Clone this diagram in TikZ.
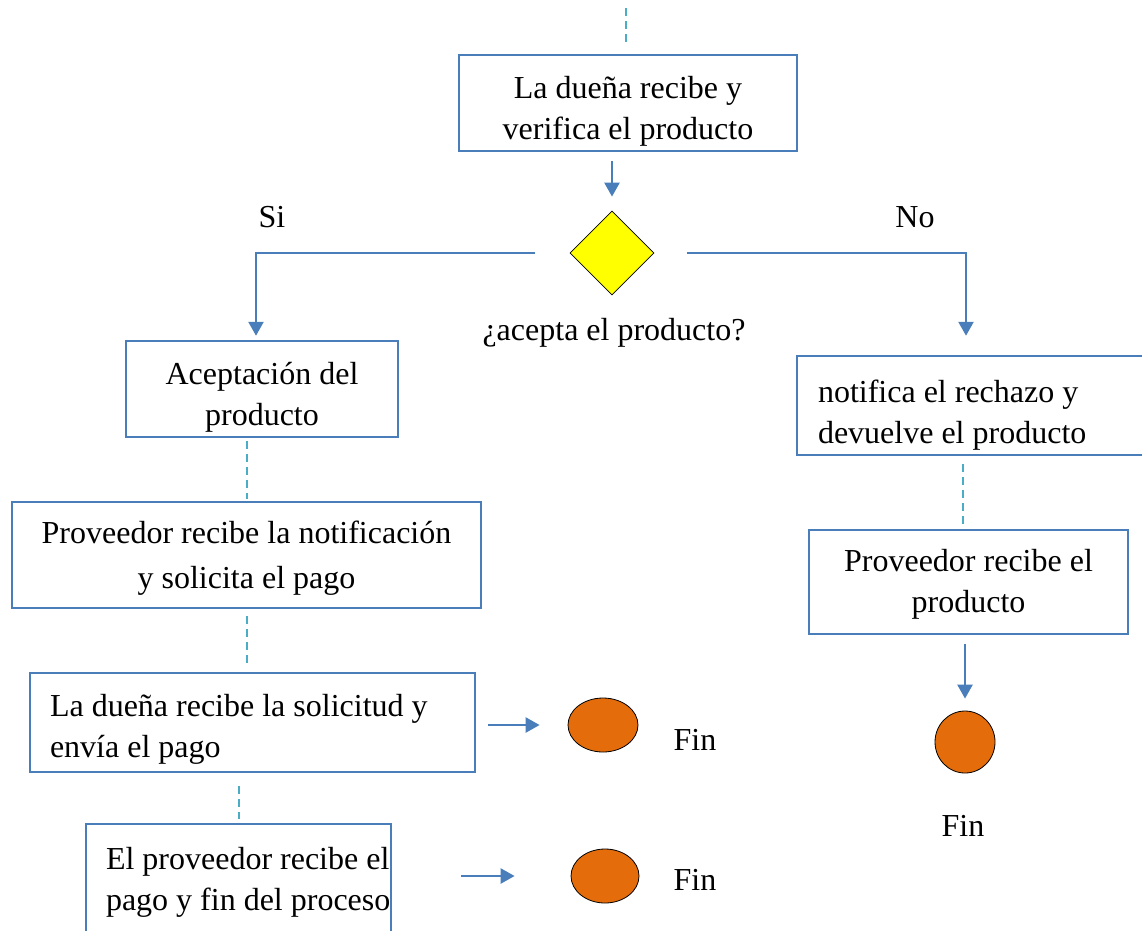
\documentclass[tikz,border=0pt]{standalone}
\usepackage{fontspec}
\setmainfont{Liberation Serif}
\usetikzlibrary{arrows.meta,shapes.geometric}
\definecolor{boxblue}{HTML}{4A7EBB}
\definecolor{dashcyan}{HTML}{4BACC6}
\definecolor{finorange}{HTML}{E46C0A}
\definecolor{decyellow}{HTML}{FFFF00}
% invisible strut that pushes a box's text down by #1 pt
\newcommand\textdrop[1]{\rule{0pt}{\dimexpr 23pt+#1pt*2\relax}}
\begin{document}
\begin{tikzpicture}[x=1pt,y=-1pt,
  txt/.style={font=\fontsize{32}{41}\selectfont, inner sep=0pt},
  stepbox/.style={txt, draw=boxblue, line width=2.5pt, rectangle, align=center},
  leftbox/.style={stepbox, align=flush left, inner xsep=#1, inner ysep=0pt},
  flow/.style={draw=boxblue, line width=2.5pt, -{Triangle[width=15pt,length=14pt]}},
  dashline/.style={draw=dashcyan, line width=2pt, dash pattern=on 8pt off 5pt},
  decision/.style={diamond, aspect=1, draw=black, line width=0.8pt, fill=decyellow,
    minimum width=84pt, minimum height=84pt, inner sep=0pt},
  endpoint/.style={ellipse, draw=black, line width=0.8pt, fill=finorange, inner sep=0pt}]

\useasboundingbox (0,0) rectangle (1142,930);

% main column
\node[stepbox, minimum width=338pt, minimum height=96pt] (recibe) at (628,103)
  {\textdrop{8}La dueña recibe y\\verifica el producto};
\node[decision] (acepta) at (612,253) {};
\node[txt, anchor=base] (pregunta) at (614,340) {¿acepta el producto?};
\node[txt] (si) at (272,217) {Si};
\node[txt] (no) at (915,217) {No};
\coordinate (entrada) at (626,8);

% "Si" branch
\node[stepbox, minimum width=272pt, minimum height=96pt] (aceptacion) at (262,389)
  {\textdrop{8}Aceptación del\\producto};
\node[stepbox, minimum width=469pt, minimum height=106pt] (notifpago) at (246.5,555)
  {\textdrop{3}Proveedor recibe la notificación\\[4pt]y solicita el pago};
\node[leftbox=20pt, text width=405pt, minimum width=445pt, minimum height=99pt] (pago) at (252.5,722.5)
  {\textdrop{6}La dueña recibe la solicitud y\\envía el pago};
\node[leftbox=20pt, text width=265pt, minimum width=305pt, minimum height=111pt] (cierre) at (238.5,879.5)
  {\textdrop{2}\mbox{El proveedor recibe el}\\\mbox{pago y fin del proceso}};
\node[endpoint, minimum width=70pt, minimum height=54pt] (finA) at (603,725) {};
\node[endpoint, minimum width=68pt, minimum height=54pt] (finB) at (605,876) {};
\node[txt] (finAtxt) at (695,740) {Fin};
\node[txt] (finBtxt) at (695,880) {Fin};

% "No" branch
\node[leftbox=21pt, text width=308pt, minimum width=350pt, minimum height=99pt] (rechazo) at (972,405.5)
  {\textdrop{9}notifica el rechazo y\\devuelve el producto};
\node[stepbox, minimum width=319pt, minimum height=104pt] (devuelto) at (968.5,582)
  {\textdrop{2}Proveedor recibe el\\producto};
\node[endpoint, minimum width=60pt, minimum height=62pt] (finC) at (965,742) {};
\node[txt] (finCtxt) at (963,826) {Fin};

% connectors
\draw[dashline, shorten >=10pt] (entrada) -- (entrada |- recibe.north);
\draw[flow, shorten <=9pt, shorten >=14pt] (recibe.south -| acepta.north) -- (acepta.north);
\draw[flow, shorten >=4pt] ([xshift=-35pt]acepta.west) -| ([xshift=-6pt]aceptacion.north);
\draw[flow, shorten >=19pt] ([xshift=33pt]acepta.east) -| ([xshift=-6pt]rechazo.north);

\draw[dashline, shorten <=3pt, shorten >=2pt] (aceptacion.south -| notifpago.north) -- (notifpago.north);
\draw[dashline, shorten <=7pt, shorten >=5pt] (notifpago.south) -- (notifpago.south |- pago.north);
\draw[dashline, shorten <=13pt, shorten >=4pt] (pago.south -| cierre.north) -- (cierre.north);
\draw[dashline, shorten <=8pt, shorten >=5pt] ([xshift=-5.5pt]devuelto.north |- rechazo.south) -- ([xshift=-5.5pt]devuelto.north);

\draw[flow, shorten <=12pt, shorten >=28pt] (finA.west -| pago.east) -- (finA.west);
\draw[flow, shorten <=69pt, shorten >=56pt] (finB.west -| cierre.east) -- (finB.west);
\draw[flow, shorten <=9pt, shorten >=12pt] (devuelto.south -| finC.north) -- (finC.north);
\end{tikzpicture}
\end{document}
